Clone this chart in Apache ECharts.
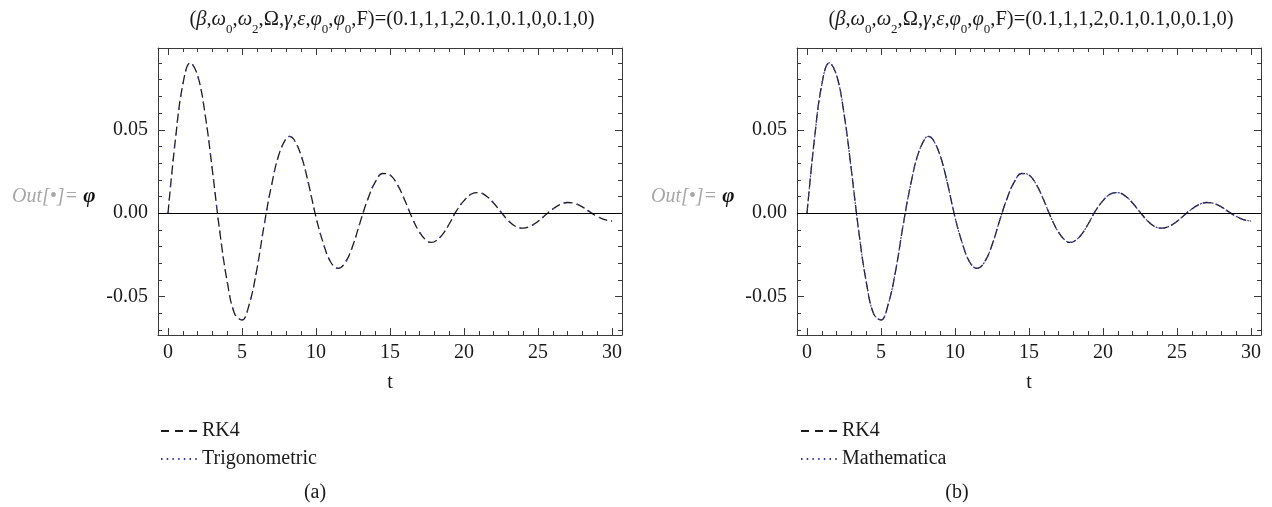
<!DOCTYPE html>
<html><head><meta charset="utf-8">
<script src="https://cdn.jsdelivr.net/npm/echarts@6/dist/echarts.min.js"></script>
<style>html,body{margin:0;padding:0;background:#fff}#c{width:1272px;height:507px}</style>
</head><body><div id="c"></div>
<script>
// ---- data ----
const tValues = [0,0.5,1,1.5,2,2.5,3,3.5,4,4.5,5,5.5,6,6.5,7,7.5,8,8.2,8.5,9,9.5,10,10.5,11,11.5,12,12.5,13,13.5,14,14.5,15,15.5,16,16.5,17,17.5,17.75,18,18.5,19,19.5,20,20.5,21,21.5,22,22.5,23,23.5,24,24.5,25,25.5,26,26.5,27,27.5,28,28.5,29,29.5,30];
const phiRK4 = [0,0.0442,0.0771,0.0901,0.0826,0.0597,0.0256,-0.0112,-0.0410,-0.0602,-0.0640,-0.0542,-0.0339,-0.0069,0.0170,0.0353,0.0451,0.0460,0.0443,0.0344,0.0175,-0.0024,-0.0182,-0.0294,-0.0331,-0.0292,-0.0191,-0.0049,0.0084,0.0186,0.0238,0.0229,0.0171,0.0077,-0.0029,-0.0115,-0.0167,-0.0175,-0.0171,-0.0133,-0.0065,0.0015,0.0075,0.0115,0.0123,0.0103,0.0061,0.0006,-0.0045,-0.0080,-0.0090,-0.0077,-0.0049,-0.0011,0.0025,0.0052,0.0064,0.0058,0.0038,0.0008,-0.0019,-0.0039,-0.0047];
const phiTrig = [0,0.0442,0.0771,0.0901,0.0826,0.0597,0.0256,-0.0112,-0.0410,-0.0602,-0.0640,-0.0542,-0.0339,-0.0069,0.0170,0.0353,0.0451,0.0460,0.0443,0.0344,0.0175,-0.0024,-0.0182,-0.0294,-0.0331,-0.0292,-0.0191,-0.0049,0.0084,0.0186,0.0238,0.0229,0.0171,0.0077,-0.0029,-0.0115,-0.0167,-0.0175,-0.0171,-0.0133,-0.0065,0.0015,0.0075,0.0115,0.0123,0.0103,0.0061,0.0006,-0.0045,-0.0080,-0.0090,-0.0077,-0.0049,-0.0011,0.0025,0.0052,0.0064,0.0058,0.0038,0.0008,-0.0019,-0.0039,-0.0047];
const phiMath = [0,0.0442,0.0771,0.0901,0.0826,0.0597,0.0256,-0.0112,-0.0410,-0.0602,-0.0640,-0.0542,-0.0339,-0.0069,0.0170,0.0353,0.0451,0.0460,0.0443,0.0344,0.0175,-0.0024,-0.0182,-0.0294,-0.0331,-0.0292,-0.0191,-0.0049,0.0084,0.0186,0.0238,0.0229,0.0171,0.0077,-0.0029,-0.0115,-0.0167,-0.0175,-0.0171,-0.0133,-0.0065,0.0015,0.0075,0.0115,0.0123,0.0103,0.0061,0.0006,-0.0045,-0.0080,-0.0090,-0.0077,-0.0049,-0.0011,0.0025,0.0052,0.0064,0.0058,0.0038,0.0008,-0.0019,-0.0039,-0.0047];
const xMajorTicks = [0,5,10,15,20,25,30];
const xMinorTicks = [1,2,3,4,6,7,8,9,11,12,13,14,16,17,18,19,21,22,23,24,26,27,28,29];
const yMajorTicks = [-0.05,0,0.05];
const yMinorTicks = [-0.07,-0.06,-0.04,-0.03,-0.02,-0.01,0.01,0.02,0.03,0.04,0.06,0.07,0.08,0.09];
const seriesNamesA = ['RK4','Trigonometric'];
const seriesNamesB = ['RK4','Mathematica'];
const panelLabels = ['(a)','(b)'];
const xAxisLabel = 't';

// ---- layout / style ----
const FONT = "'Liberation Serif','DejaVu Serif',serif";
const X_MIN = -0.676, X_MAX = 30.676, Y_MIN = -0.073, Y_MAX = 0.099;
const grids = [
  {left:158, top:48, width:464, height:287},
  {left:797, top:48, width:464, height:287}
];
const frameColor = '#3a3a3a';
const lineSty = {color:frameColor, width:1};

function xAxes(gi){
  const base = {gridIndex:gi, type:'value', min:X_MIN, max:X_MAX, splitLine:{show:false}};
  return [
    Object.assign({}, base, {position:'bottom', axisLine:{show:true,onZero:false,lineStyle:lineSty},
      axisTick:{show:true,inside:true,length:7,customValues:xMajorTicks,lineStyle:lineSty},
      axisLabel:{show:true,customValues:xMajorTicks,margin:8,fontSize:20,fontFamily:FONT,color:'#1a1a1a',formatter:v=>String(v)}}),
    Object.assign({}, base, {position:'bottom', axisLine:{show:false,onZero:false},
      axisTick:{show:true,inside:true,length:4,customValues:xMinorTicks,lineStyle:lineSty}, axisLabel:{show:false}}),
    Object.assign({}, base, {position:'top', axisLine:{show:true,onZero:false,lineStyle:lineSty},
      axisTick:{show:true,inside:true,length:7,customValues:xMajorTicks,lineStyle:lineSty}, axisLabel:{show:false}}),
    Object.assign({}, base, {position:'top', axisLine:{show:false,onZero:false},
      axisTick:{show:true,inside:true,length:4,customValues:xMinorTicks,lineStyle:lineSty}, axisLabel:{show:false}})
  ];
}
function yAxes(gi){
  const base = {gridIndex:gi, type:'value', min:Y_MIN, max:Y_MAX, splitLine:{show:false}};
  return [
    Object.assign({}, base, {position:'left', axisLine:{show:true,onZero:false,lineStyle:lineSty},
      axisTick:{show:true,inside:true,length:7,customValues:yMajorTicks,lineStyle:lineSty},
      axisLabel:{show:true,customValues:yMajorTicks,margin:10,fontSize:20,fontFamily:FONT,color:'#1a1a1a',formatter:v=>v.toFixed(2)}}),
    Object.assign({}, base, {position:'left', axisLine:{show:false,onZero:false},
      axisTick:{show:true,inside:true,length:4,customValues:yMinorTicks,lineStyle:lineSty}, axisLabel:{show:false}}),
    Object.assign({}, base, {position:'right', axisLine:{show:true,onZero:false,lineStyle:lineSty},
      axisTick:{show:true,inside:true,length:7,customValues:yMajorTicks,lineStyle:lineSty}, axisLabel:{show:false}}),
    Object.assign({}, base, {position:'right', axisLine:{show:false,onZero:false},
      axisTick:{show:true,inside:true,length:4,customValues:yMinorTicks,lineStyle:lineSty}, axisLabel:{show:false}})
  ];
}
const pairs = vals => tValues.map((t,i)=>[t, vals[i]]);
const zeroLine = {silent:true, symbol:['none','none'], label:{show:false}, lineStyle:{color:'#000',width:1.2,type:'solid'}, data:[{yAxis:0}], animation:false};
const dashA = [9,4];

const series = [
  {name:seriesNamesA[0], type:'line', xAxisIndex:0, yAxisIndex:0, data:pairs(phiRK4), symbol:'none', smooth:0.4,
    lineStyle:{color:'#1c1c1c', width:1.3, type:dashA}, markLine:zeroLine, z:3},
  {name:seriesNamesA[1], type:'line', xAxisIndex:0, yAxisIndex:0, data:pairs(phiTrig), symbol:'none', smooth:0.4,
    lineStyle:{color:'#3a3aa0', width:1.3, type:[2,11]}, z:4},
  {name:seriesNamesB[0], type:'line', xAxisIndex:4, yAxisIndex:4, data:pairs(phiRK4), symbol:'none', smooth:0.4,
    lineStyle:{color:'#1c1c1c', width:1.3, type:dashA}, markLine:zeroLine, z:3},
  {name:seriesNamesB[1], type:'line', xAxisIndex:4, yAxisIndex:4, data:pairs(phiMath), symbol:'none', smooth:0.4,
    lineStyle:{color:'#3a3aa0', width:1.2, type:[2,2]}, z:4}
];

const legendText = {fontSize:20, fontFamily:FONT, color:'#1a1a1a'};
function legendFor(names, left){
  return {orient:'vertical', left:left, top:416, itemWidth:36, itemHeight:14, itemGap:8, selectedMode:false,
    itemStyle:{opacity:0}, textStyle:legendText,
    data:[{name:names[0], lineStyle:{type:[8,6], color:'#1c1c1c'}},
          {name:names[1], lineStyle:{type:[1.5,4.2], color:'#3a3aa0'}}]};
}

const titleRich = {
  i:{fontStyle:'italic', fontSize:20.5, fontFamily:FONT, fill:'#1a1a1a'},
  sub:{fontSize:13, fontFamily:FONT, fill:'#1a1a1a', verticalAlign:'bottom', lineHeight:32}
};
const titleText = '({i|β},{i|ω}{sub|0},{i|ω}{sub|2},Ω,{i|γ},{i|ε},{i|φ}{sub|0},{i|φ}{sub|0},F)=(0.1,1,1,2,0.1,0.1,0,0.1,0)';
const outRich = {
  o:{fontStyle:'italic', fontSize:20, fontFamily:FONT, fill:'#a6a6a6'},
  p:{fontStyle:'italic', fontWeight:'bold', fontSize:21, fontFamily:FONT, fill:'#111'}
};
function txt(x, y, text, extra){
  return {type:'text', x:x, y:y, silent:true, style:Object.assign({text:text, fontSize:20.5, fontFamily:FONT, fill:'#1a1a1a', align:'center', verticalAlign:'middle'}, extra||{})};
}
const graphics = [
  txt(392, 20, titleText, {rich:titleRich}),
  txt(1031, 20, titleText, {rich:titleRich}),
  txt(12, 197, '{o|Out[•]=} {p|φ}', {rich:outRich, align:'left'}),
  txt(651, 197, '{o|Out[•]=} {p|φ}', {rich:outRich, align:'left'}),
  txt(390, 383, xAxisLabel, {fontSize:20}),
  txt(1029, 383, xAxisLabel, {fontSize:20}),
  txt(315, 493, panelLabels[0], {fontSize:20}),
  txt(957, 493, panelLabels[1], {fontSize:20})
];

const chart = echarts.init(document.getElementById('c'), null, {renderer:'canvas'});
chart.setOption({
  animation:false,
  backgroundColor:'#fff',
  grid:grids,
  xAxis:[].concat(xAxes(0), xAxes(1)),
  yAxis:[].concat(yAxes(0), yAxes(1)),
  legend:[legendFor(seriesNamesA, 155), legendFor(seriesNamesB, 795)],
  series:series,
  graphic:graphics
});
</script></body></html>
